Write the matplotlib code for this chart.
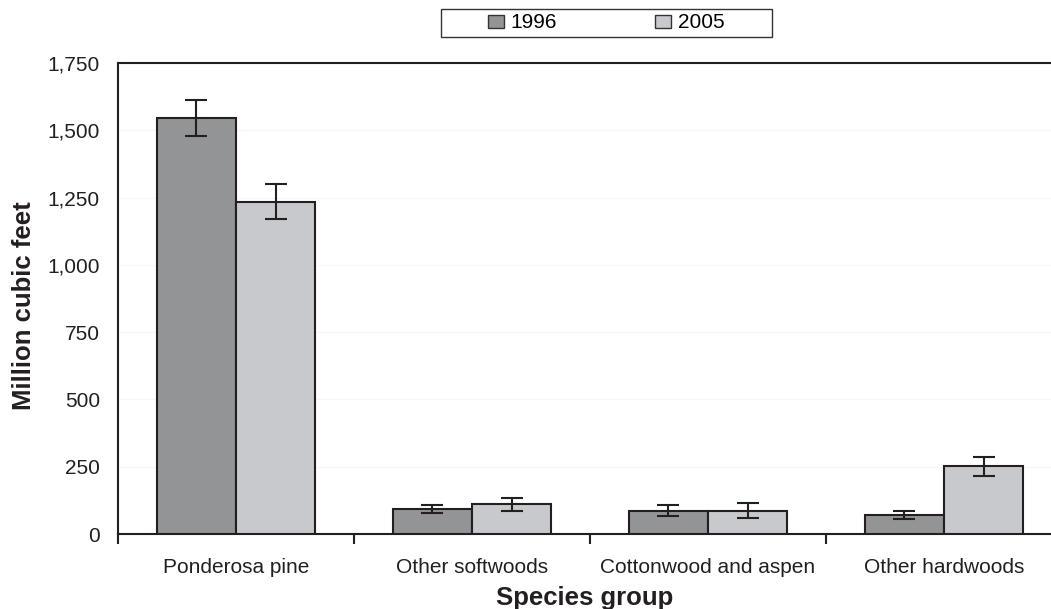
import numpy as np
import matplotlib
matplotlib.use('Agg')
from matplotlib import pyplot as plt
from matplotlib.ticker import FuncFormatter
from matplotlib.patches import Rectangle

plt.rcParams['font.family'] = ['Liberation Sans', 'DejaVu Sans']

species = ['Ponderosa pine', 'Other softwoods', 'Cottonwood and aspen', 'Other hardwoods']
years = ['1996', '2005']
vol_1996 = [1545, 94, 87, 71]
vol_2005 = [1235, 110, 87, 252]
err_1996 = [67, 15, 20, 16]
err_2005 = [64, 24, 29, 35]

col_1996 = '#939496'
col_2005 = '#c8c9cc'
edge = '#231f20'

fig = plt.figure(figsize=(10.51, 6.09), dpi=100)
# axes box: left spine x=118, bottom y=534, top y=63 (right edge runs off the picture)
ax = fig.add_axes([118/1051, 75/609, 933/1051, 471/609])

x = np.arange(len(species))
w = 0.336
ekw = dict(ecolor=edge, elinewidth=1.5, capsize=8, capthick=1.5)
ax.bar(x - w/2, vol_1996, w, color=col_1996, edgecolor=edge, linewidth=1.5,
       yerr=err_1996, error_kw=ekw, label=years[0], zorder=3)
ax.bar(x + w/2, vol_2005, w, color=col_2005, edgecolor=edge, linewidth=1.5,
       yerr=err_2005, error_kw=ekw, label=years[1], zorder=3)

ax.set_yticks(np.arange(0, 1751, 250))
ax.yaxis.set_major_formatter(FuncFormatter(lambda v, p: f'{int(v):,}'))
ax.tick_params(axis='y', length=0, labelsize=15, pad=13, colors='#231f20')
ax.grid(axis='y', color='#f6f6f6', linewidth=0.8, zorder=0)

ax.set_xticks(x)
ax.set_xticklabels(species)
ax.set_xticks(np.arange(-0.5, 4.0, 1.0), minor=True)
ax.tick_params(axis='x', which='major', length=0, labelsize=15, pad=17.5, colors='#231f20')
ax.tick_params(axis='x', which='minor', length=7, width=1.5, direction='out', color=edge)

# limits after the ticks, since set_xticks widens the view
ax.set_xlim(-0.5, -0.5 + 933/236)
ax.set_ylim(0, 1750)

for s in ['left', 'bottom', 'top']:
    ax.spines[s].set_linewidth(1.5)
    ax.spines[s].set_color(edge)
ax.spines['right'].set_visible(False)

ax.set_xlabel('Species group', fontsize=18.5, fontweight='bold', labelpad=6, color='#231f20')
ax.set_ylabel('Million cubic feet', fontsize=18.5, fontweight='bold', color='#231f20')
ax.yaxis.set_label_coords(-82/933, 228/471)

leg = fig.legend(loc='center', bbox_to_anchor=(606/1051, 1 - 23/609), ncol=2, frameon=False,
                 fontsize=15, handlelength=0.77, handleheight=0.58, handletextpad=0.3,
                 columnspacing=4.75, borderpad=0, borderaxespad=0)
for h in leg.legend_handles:
    h.set_linewidth(1.0)
    h.set_edgecolor('#333333')
# legend frame drawn as a plain box
fig.patches.append(Rectangle((441/1051, 1 - 37/609), 331/1051, 28/609, transform=fig.transFigure,
                             fill=False, edgecolor='#333333', linewidth=1.0))

fig.savefig('out.png', dpi=100)
